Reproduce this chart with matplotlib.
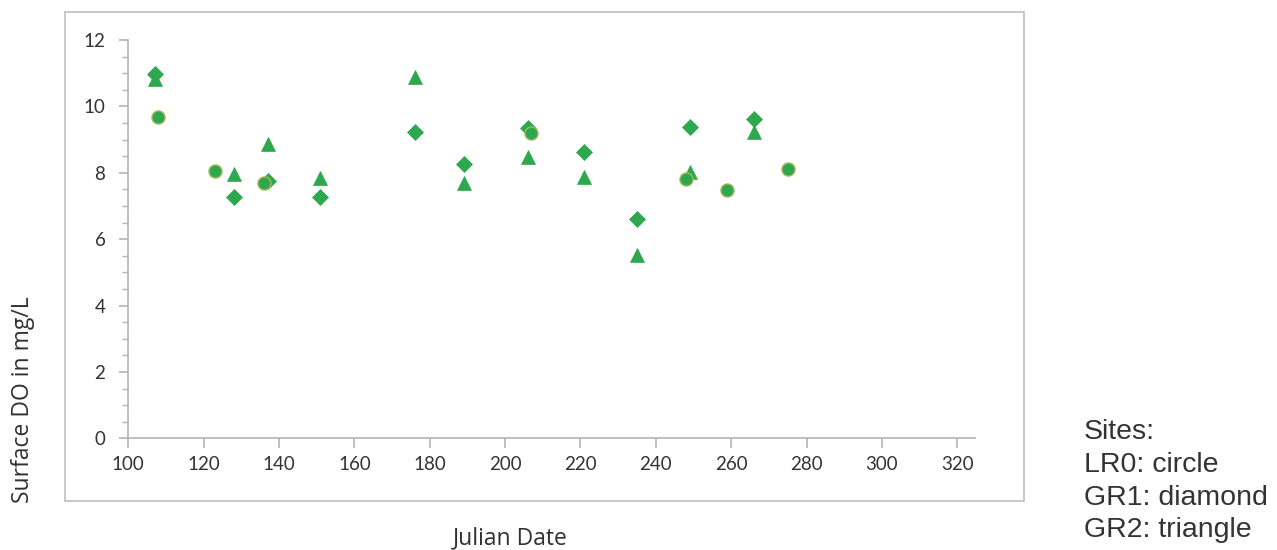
#!/usr/bin/env python3
# surface DO vs julian date, three sites

import matplotlib
matplotlib.use('AGG')
import matplotlib.pyplot as plt
from matplotlib.patches import Rectangle
from matplotlib.ticker import MultipleLocator

# LR0 (circle)
lr0_day = [108, 123, 136, 207, 248, 259, 275]
lr0_do = [9.68, 8.06, 7.70, 9.19, 7.80, 7.48, 8.11]

# GR1 (diamond)
gr1_day = [107, 128, 137, 151, 176, 189, 206, 221, 235, 249, 266]
gr1_do = [10.97, 7.28, 7.76, 7.28, 9.22, 8.26, 9.34, 8.62, 6.60, 9.37, 9.62]

# GR2 (triangle)
gr2_day = [107, 128, 137, 151, 176, 189, 206, 221, 235, 249, 266]
gr2_do = [10.82, 7.96, 8.87, 7.83, 10.89, 7.70, 8.48, 7.88, 5.52, 8.03, 9.24]

x_ticks = list(range(100, 321, 20))
y_ticks = list(range(0, 13, 2))
notes = ['Sites:', 'LR0: circle', 'GR1: diamond', 'GR2: triangle']

W, H = 1277, 550
GREEN = '#2ea84e'
AXIS_GRAY = '#b4b4b4'
TEXT = '#333333'
TICK_FONT = 'Lato'
TITLE_FONT = 'Open Sans'

fig = plt.figure(figsize=(W / 100, H / 100), dpi=100)

# outer chart border
fig.patches.append(Rectangle((65 / W, 1 - 501 / H), (1024 - 65) / W, (501 - 12) / H,
                             transform=fig.transFigure, fill=False,
                             edgecolor='#c4c4c4', linewidth=1.3))

ax = fig.add_axes([128.3 / W, 1 - 438.3 / H, (975 - 128.3) / W, (438.3 - 40) / H])

ax.plot(gr1_day, gr1_do, linestyle='none', marker='D', markersize=8.3,
        color=GREEN, markeredgecolor=GREEN, markeredgewidth=0.5, zorder=3, clip_on=False)
ax.plot(gr2_day, gr2_do, linestyle='none', marker='^', markersize=10.5,
        color=GREEN, markeredgecolor=GREEN, markeredgewidth=0.5, zorder=4, clip_on=False)
ax.plot(lr0_day, lr0_do, linestyle='none', marker='o', markersize=9.4,
        color=GREEN, markeredgecolor='#a9b65a', markeredgewidth=1.0, zorder=5, clip_on=False)

ax.set_xlim(100, 324.7)
ax.set_ylim(0, 12)
ax.set_xticks(x_ticks)
ax.set_yticks(y_ticks)
ax.yaxis.set_minor_locator(MultipleLocator(0.5))

for side in ('top', 'right'):
    ax.spines[side].set_visible(False)
for side in ('left', 'bottom'):
    ax.spines[side].set_color(AXIS_GRAY)
    ax.spines[side].set_linewidth(1.2)

ax.tick_params(axis='x', which='major', direction='out', length=7, width=1.2,
               color=AXIS_GRAY, pad=6, labelsize=13.5, labelcolor=TEXT)
ax.tick_params(axis='y', which='major', direction='out', length=6.5, width=1.2,
               color=AXIS_GRAY, pad=10, labelsize=13.5, labelcolor=TEXT)
ax.tick_params(axis='y', which='minor', direction='out', length=4.5, width=1.0,
               color=AXIS_GRAY)
for lab in ax.get_xticklabels() + ax.get_yticklabels():
    lab.set_fontfamily(TICK_FONT)

fig.text(23 / W, 1 - 400 / H, 'Surface DO in mg/L', rotation=90, ha='center', va='center',
         fontsize=16.5, color='#303030', family=TITLE_FONT)
fig.text(510 / W, 1 - 538 / H, 'Julian Date', ha='center', va='center',
         fontsize=16.5, color='#303030', family=TITLE_FONT)

fig.text(1084 / W, 1 - 419 / H, '\n'.join(notes), ha='left', va='top',
         fontsize=20.5, color='#333333', family='Liberation Sans', linespacing=1.34)

fig.savefig('out.png', dpi=100)
plt.close(fig)
